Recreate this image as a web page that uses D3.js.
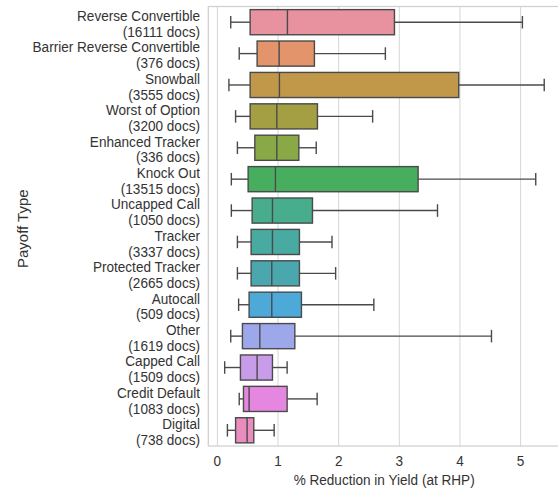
<!DOCTYPE html>
<html>
<head>
<meta charset="utf-8">
<script src="https://cdn.jsdelivr.net/npm/d3@7"></script>
<style>
  html, body { margin: 0; padding: 0; background: #fff; }
  svg { display: block; font-family: "Liberation Sans", Arial, sans-serif; }
</style>
</head>
<body>
<svg id="chart" width="558" height="492"></svg>
<script>
// ---- data ----
const categories = ["Reverse Convertible", "Barrier Reverse Convertible", "Snowball", "Worst of Option",
  "Enhanced Tracker", "Knock Out", "Uncapped Call", "Tracker", "Protected Tracker", "Autocall",
  "Other", "Capped Call", "Credit Default", "Digital"];
const docCounts = [16111, 376, 3555, 3200, 336, 13515, 1050, 3337, 2665, 509, 1619, 1509, 1083, 738];
const whiskerLow = [0.22, 0.36, 0.19, 0.30, 0.33, 0.23, 0.23, 0.33, 0.33, 0.35, 0.22, 0.12, 0.36, 0.165];
const q1 =         [0.54, 0.655, 0.54, 0.54, 0.617, 0.507, 0.573, 0.556, 0.556, 0.523, 0.413, 0.38, 0.43, 0.30];
const median =     [1.155, 1.018, 1.023, 0.98, 0.98, 0.957, 0.908, 0.908, 0.897, 0.897, 0.70, 0.655, 0.523, 0.49];
const q3 =         [2.92, 1.60, 3.98, 1.65, 1.343, 3.31, 1.568, 1.353, 1.353, 1.386, 1.277, 0.908, 1.15, 0.60];
const whiskerHigh= [5.03, 2.77, 5.39, 2.56, 1.63, 5.25, 3.63, 1.89, 1.95, 2.58, 4.52, 1.15, 1.645, 0.936];
const xTicks = [0, 1, 2, 3, 4, 5];
const xLabel = "% Reduction in Yield (at RHP)";
const yLabel = "Payoff Type";
const colors = ["#E8919F", "#E3946B", "#C1984A", "#A59F43", "#89A947", "#47AE5F", "#48AD8C",
  "#48AAA0", "#4AA7AE", "#4DA9D8", "#9DA8EB", "#C99CEA", "#E586E0", "#E88DBE"];

(function () {
// ---- layout ----
const svg = d3.select("#chart");
const pLeft = 208.3, pRight = 560, pTop = 6.5, pBottom = 446;
const fs = 15.5, sx = 0.876;

const x = d3.scaleLinear().domain([-0.15, 5.65]).range([pLeft, pRight]);
const y = d3.scaleBand().domain(categories).range([pTop, pBottom]).padding(0);

const rows = categories.map((c, i) => ({
  cat: c, n: docCounts[i], lo: whiskerLow[i], q1: q1[i], med: median[i], q3: q3[i], hi: whiskerHigh[i], color: colors[i]
}));

// grid
svg.append("g").selectAll("line").data(xTicks).join("line")
  .attr("x1", d => x(d)).attr("x2", d => x(d))
  .attr("y1", pTop).attr("y2", pBottom)
  .attr("stroke", "#d6d6d6").attr("stroke-width", 1);

// spines
svg.append("rect").attr("x", pLeft).attr("y", pTop).attr("width", pRight - pLeft).attr("height", pBottom - pTop)
  .attr("fill", "none").attr("stroke", "#cfcfcf").attr("stroke-width", 1.25);

const edge = "#4a4a4a", lw = 1.4;
const bw = y.bandwidth() * 0.8;

const g = svg.append("g").selectAll("g").data(rows).join("g")
  .attr("transform", d => `translate(0,${y(d.cat) + y.bandwidth() / 2})`);

// whiskers
g.append("line").attr("x1", d => x(d.lo)).attr("x2", d => x(d.q1)).attr("y1", 0).attr("y2", 0)
  .attr("stroke", edge).attr("stroke-width", lw);
g.append("line").attr("x1", d => x(d.q3)).attr("x2", d => x(d.hi)).attr("y1", 0).attr("y2", 0)
  .attr("stroke", edge).attr("stroke-width", lw);
// caps
g.append("line").attr("x1", d => x(d.lo)).attr("x2", d => x(d.lo)).attr("y1", -bw / 4).attr("y2", bw / 4)
  .attr("stroke", edge).attr("stroke-width", lw);
g.append("line").attr("x1", d => x(d.hi)).attr("x2", d => x(d.hi)).attr("y1", -bw / 4).attr("y2", bw / 4)
  .attr("stroke", edge).attr("stroke-width", lw);
// boxes
g.append("rect").attr("x", d => x(d.q1)).attr("width", d => x(d.q3) - x(d.q1))
  .attr("y", -bw / 2).attr("height", bw)
  .attr("fill", d => d.color).attr("stroke", edge).attr("stroke-width", lw);
// medians
g.append("line").attr("x1", d => x(d.med)).attr("x2", d => x(d.med)).attr("y1", -bw / 2).attr("y2", bw / 2)
  .attr("stroke", edge).attr("stroke-width", lw);

// y tick labels (two lines)
const textColor = "#333333";
const yl = svg.append("g").selectAll("text").data(rows).join("text")
  .attr("text-anchor", "end").attr("fill", textColor).attr("font-size", fs)
  .attr("transform", d => `translate(200,${y(d.cat) + y.bandwidth() / 2}) scale(${sx},1)`);
yl.append("tspan").attr("x", 0).attr("y", -1.2).text(d => d.cat);
yl.append("tspan").attr("x", 0).attr("y", 14.6).text(d => `(${d.n} docs)`);

// x ticks
svg.append("g").selectAll("text").data(xTicks).join("text")
  .attr("transform", d => `translate(${x(d)},466.3) scale(${sx},1)`).attr("text-anchor", "middle")
  .attr("fill", textColor).attr("font-size", fs).text(d => d);

// axis titles
svg.append("text").attr("transform", `translate(${(pLeft + pRight) / 2},484.8) scale(${sx},1)`)
  .attr("text-anchor", "middle")
  .attr("fill", textColor).attr("font-size", fs).text(xLabel);
svg.append("text").attr("transform", "translate(27.5,228.7) rotate(-90)").attr("text-anchor", "middle")
  .attr("fill", textColor).attr("font-size", 15).text(yLabel);
})();
</script>
</body>
</html>
